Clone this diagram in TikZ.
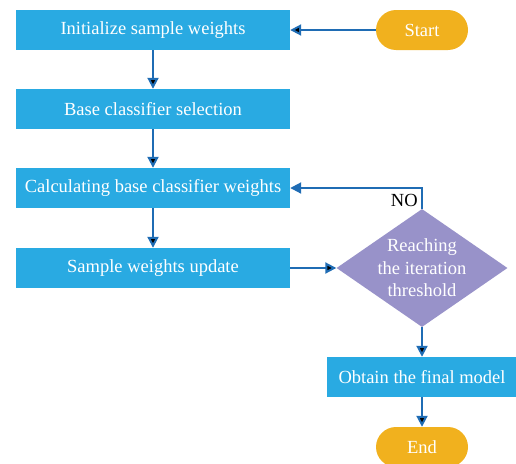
\documentclass[tikz,border=0pt]{standalone}
\usepackage{fontspec}
\setmainfont{Liberation Serif}
\usetikzlibrary{shapes.geometric,arrows.meta}
\definecolor{boxblue}{RGB}{41,170,226}
\definecolor{termorange}{RGB}{241,177,30}
\definecolor{testpurple}{RGB}{152,146,201}
\definecolor{linkblue}{RGB}{31,108,180}
\begin{document}
\begin{tikzpicture}[x=1pt,y=-1pt,font=\fontsize{18.5}{22.5}\selectfont,
  box node/.style={rectangle,fill=boxblue,text=white,minimum width=274pt,minimum height=40pt,inner sep=0pt},
  term node/.style={rectangle,rounded corners=20pt,fill=termorange,text=white,minimum width=92pt,minimum height=40pt,inner sep=0pt},
  test node/.style={diamond,aspect=1.45,fill=testpurple,text=white,minimum width=171pt,minimum height=118pt,inner sep=-6pt,align=center},
  link/.style={draw=linkblue,line width=2pt,-{Triangle[length=11pt,width=11pt]}}]
  \useasboundingbox (0,0) rectangle (516,463);

  \node[term node] (0) at (422,30) {Start};
  \node[box node] (1) at (153,30) {Initialize sample weights};
  \node[box node] (2) at (153,109) {Base classifier selection};
  \node[box node] (3) at (153,188) {Calculating base classifier weights};
  \node[box node] (4) at (153,268) {Sample weights update};
  \node[test node] (5) at (422,268) {Reaching\\the iteration\\threshold};
  \node[box node,minimum width=190pt] (6) at (422,377) {Obtain the final model};
  \node[term node] (7) at (422,447) {End};
  \path[link]
   (0) edge (1)
   (1) edge (2)
   (2) edge (3)
   (3) edge (4)
   (4) edge (5)
   (5) edge (6)
   (6) edge (7);
  \draw[link] (5.north) |- node[pos=0.2,left,text=black]{NO} (3.east);
\end{tikzpicture}
\end{document}
